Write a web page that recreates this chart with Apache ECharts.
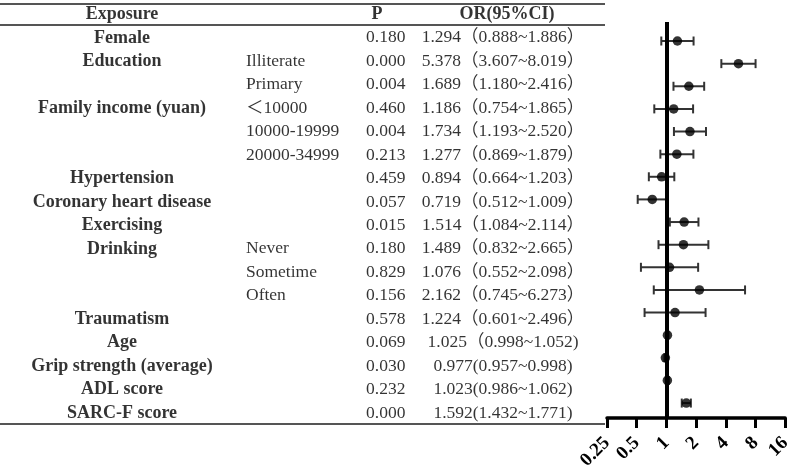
<!DOCTYPE html>
<html>
<head>
<meta charset="utf-8">
<script src="https://cdn.jsdelivr.net/npm/echarts@6/dist/echarts.min.js"></script>
<style>
    html, body { margin: 0; padding: 0; background: #fff; }
    #chart { width: 794px; height: 473px; }
</style>
</head>
<body>
<div id="chart"></div>
<script>
    // table rows, top to bottom
    var exposures = ['Female', 'Education', '', 'Family income (yuan)', '', '', 'Hypertension',
        'Coronary heart disease', 'Exercising', 'Drinking', '', '', 'Traumatism', 'Age',
        'Grip strength (average)', 'ADL score', 'SARC-F score'];
    var subgroups = ['', 'Illiterate', 'Primary', '＜10000', '10000-19999', '20000-34999', '', '', '',
        'Never', 'Sometime', 'Often', '', '', '', '', ''];
    var pValues = ['0.180', '0.000', '0.004', '0.460', '0.004', '0.213', '0.459', '0.057', '0.015',
        '0.180', '0.829', '0.156', '0.578', '0.069', '0.030', '0.232', '0.000'];
    var orValues = [1.294, 5.378, 1.689, 1.186, 1.734, 1.277, 0.894, 0.719, 1.514, 1.489, 1.076,
        2.162, 1.224, 1.025, 0.977, 1.023, 1.592];
    var ciLow = [0.888, 3.607, 1.180, 0.754, 1.193, 0.869, 0.664, 0.512, 1.084, 0.832, 0.552,
        0.745, 0.601, 0.998, 0.957, 0.986, 1.432];
    var ciHigh = [1.886, 8.019, 2.416, 1.865, 2.520, 1.879, 1.203, 1.009, 2.114, 2.665, 2.098,
        6.273, 2.496, 1.052, 0.998, 1.062, 1.771];

    function orText(i) {
        var a = orValues[i].toFixed(3), b = ciLow[i].toFixed(3), c = ciHigh[i].toFixed(3);
        if (i < 13) return a + '（' + b + '~' + c + '）';
        if (i === 13) return a + '（' + b + '~' + c + ')';
        return a + '(' + b + '~' + c + ')';
    }

    var serif = '"Liberation Serif", "Times New Roman", "Noto Sans CJK SC", serif';

    // one text column of the table
    function textColumn(x, texts, align, bold) {
        var data = [];
        texts.forEach(function (t, i) {
            if (t) data.push([x, i, t]);
        });
        return {
            type: 'scatter', xAxisIndex: 0, yAxisIndex: 0,
            symbolSize: 1, itemStyle: {color: 'rgba(0,0,0,0)'},
            silent: true,
            data: data,
            label: {
                show: true, position: 'inside', align: align, verticalAlign: 'middle',
                formatter: function (p) { return p.data[2]; },
                fontFamily: serif, fontSize: bold ? 18 : 17.5,
                fontWeight: bold ? 'bold' : 'normal', color: '#000'
            }
        };
    }

    var orLabels = orValues.map(function (v, i) { return orText(i); });

    var chart = echarts.init(document.getElementById('chart'));
    chart.setOption({
        animation: false,
        grid: [
            {left: 0, right: 189, top: 2, bottom: 49},
            {left: 607, right: 6, top: 22, bottom: 55}
        ],
        xAxis: [
            {gridIndex: 0, type: 'value', min: 0, max: 605, show: false},
            {
                gridIndex: 1, type: 'log', logBase: 2, min: 0.25, max: 16, interval: 1,
                splitLine: {show: false},
                axisLine: {onZero: false, lineStyle: {color: '#000', width: 3.5}},
                axisTick: {show: true, length: 10, lineStyle: {color: '#000', width: 3}},
                axisLabel: {
                    rotate: 45, margin: 22, color: '#000', fontFamily: serif,
                    fontSize: 19, fontWeight: 'bold',
                    formatter: function (v) { return String(+v.toFixed(2)); }
                }
            }
        ],
        yAxis: [
            {gridIndex: 0, type: 'value', inverse: true, min: -1.53, max: 16.47, show: false},
            {gridIndex: 1, type: 'value', inverse: true, min: -0.84, max: 16.66, show: false}
        ],
        series: [
            textColumn(122, exposures, 'center', true),
            textColumn(246, subgroups, 'left', false),
            textColumn(366, pValues, 'left', false),
            textColumn(503, orLabels, 'center', false),
            {
                // header row + table rules
                type: 'scatter', xAxisIndex: 0, yAxisIndex: 0,
                symbolSize: 1, itemStyle: {color: 'rgba(0,0,0,0)'}, silent: true,
                data: [[122, -1, 'Exposure'], [377, -1, 'P'], [507, -1, 'OR(95%CI)']],
                label: {
                    show: true, position: 'inside', align: 'center', verticalAlign: 'middle',
                    formatter: function (p) { return p.data[2]; },
                    fontFamily: serif, fontSize: 18, fontWeight: 'bold', color: '#000'
                },
                markLine: {
                    silent: true, symbol: 'none', label: {show: false},
                    lineStyle: {color: '#555', width: 1.8, type: 'solid'},
                    data: [{yAxis: -1.46}, {yAxis: -0.55}, {yAxis: 16.47}]
                }
            },
            {
                // confidence intervals
                type: 'custom', xAxisIndex: 1, yAxisIndex: 1,
                encode: {x: [0, 1], y: 2},
                data: ciLow.map(function (lo, i) { return [lo, ciHigh[i], i]; }),
                renderItem: function (params, api) {
                    var p1 = api.coord([api.value(0), api.value(2)]);
                    var p2 = api.coord([api.value(1), api.value(2)]);
                    var cap = 4.5;
                    var style = {stroke: '#333', lineWidth: 2};
                    return {
                        type: 'group',
                        children: [
                            {type: 'line', shape: {x1: p1[0], y1: p1[1], x2: p2[0], y2: p2[1]}, style: style},
                            {type: 'line', shape: {x1: p1[0], y1: p1[1] - cap, x2: p1[0], y2: p1[1] + cap}, style: style},
                            {type: 'line', shape: {x1: p2[0], y1: p2[1] - cap, x2: p2[0], y2: p2[1] + cap}, style: style}
                        ]
                    };
                },
                markLine: {
                    silent: true, symbol: 'none', label: {show: false},
                    lineStyle: {color: '#000', width: 4, type: 'solid'},
                    data: [{xAxis: 1}]
                }
            },
            {
                // odds ratios
                type: 'scatter', xAxisIndex: 1, yAxisIndex: 1,
                symbol: 'circle', symbolSize: 9.5,
                itemStyle: {color: '#000'},
                z: 5,
                data: orValues.map(function (v, i) { return [v, i]; })
            }
        ]
    });
</script>
</body>
</html>
